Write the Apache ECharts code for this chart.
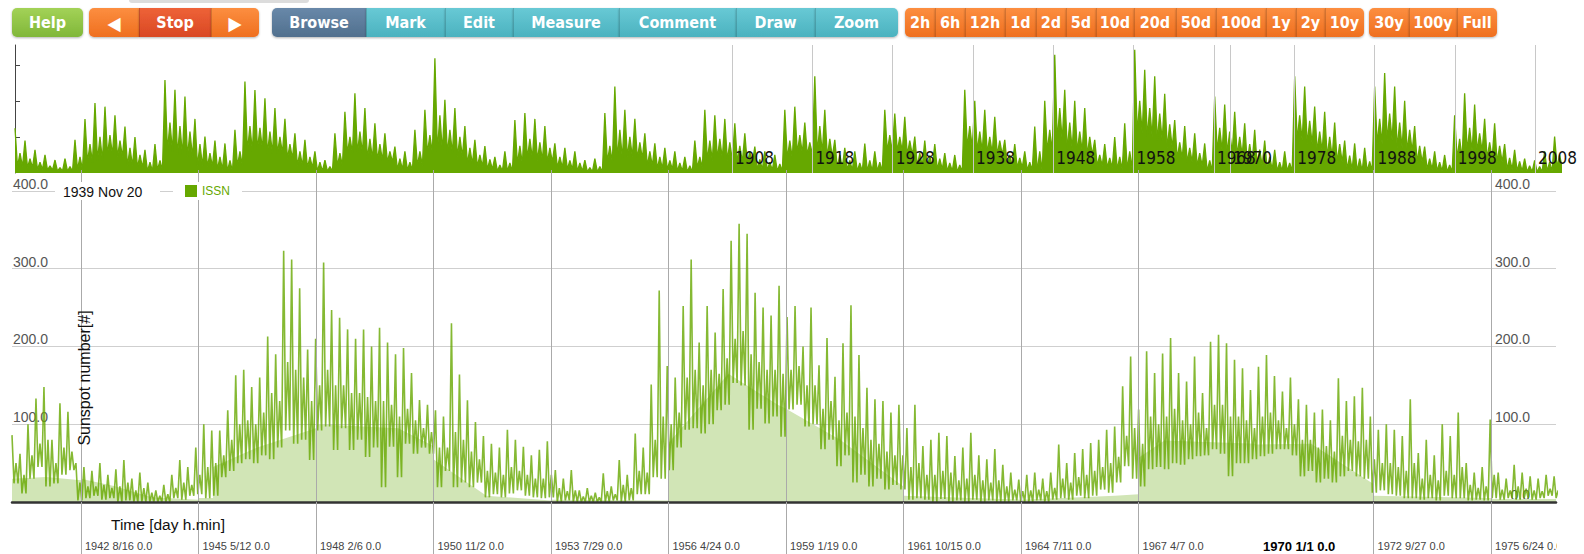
<!DOCTYPE html>
<html><head><meta charset="utf-8">
<script src="https://cdn.jsdelivr.net/npm/echarts@6/dist/echarts.min.js"></script>
<style>html,body{margin:0;padding:0;background:#fff}#c{width:1584px;height:554px}</style>
</head><body><div id="c"></div>
<script>
// ---------------- DATA ----------------
// Main chart: daily ISSN read from the picture as, per 68-day window:
// upper spike, lower dip and typical (band) level. Days since 1970-01-01.
const mainStartDay = -10587, mainStepDays = 68;
const mainHigh = [
 86,62,100,133,148,80,127,116,50,45, 40,50,35,42,54,30,38,25,15,22,
 35,54,45,70,100,92,92,118,163,170, 148,160,213,190,323,312,275,196,210,308,
 247,237,222,210,222,200,224,205,190,198, 166,131,125,118,110,230,164,131,103,85,
 75,70,93,80,71,60,67,78,41,30, 41,15,18,12,37,20,54,35,88,70,
 151,272,175,160,252,312,205,252,218,274, 336,358,345,269,250,240,278,238,252,200,
 250,176,211,161,204,253,189,147,132,130, 115,125,95,125,72,80,89,85,59,70,
 89,60,55,68,48,38,29,35,38,30, 38,74,50,63,68,76,80,93,97,149,
 187,119,194,166,191,211,166,155,187,140, 206,215,204,183,172,144,174,189,162,142,
 160,132,125,115,119,105,159,130,136,147, 110,93,100,93,85,132,63,80,60,100,
 85,115,50,38,45,106,38,30,48,38, 33,30,35,33
];
const mainLow = [
 24,11,30,45,20,24,35,41,2,5, 8,3,5,0,2,0,0,0,0,0,
 5,3,8,10,5,8,32,40,50,55, 50,60,55,70,92,75,80,54,92,97,
 67,95,67,80,58,70,19,71,32,75, 62,70,62,19,40,19,25,19,25,6,
 10,6,11,15,8,6,5,6,0,2, 0,0,0,0,0,2,0,2,10,10,
 32,30,41,70,93,95,88,100,118,125, 153,150,93,120,101,110,84,119,125,97,
 100,68,80,46,60,25,35,20,30,16, 22,16,3,5,3,0,4,0,2,0,
 3,0,2,0,0,2,0,0,2,0, 3,5,3,8,5,8,16,12,25,46,
 30,20,42,45,42,50,48,55,59,60, 68,62,33,50,50,55,59,62,68,68,
 60,33,40,25,30,25,33,40,33,30, 12,15,10,8,5,5,3,5,2,8,
 5,5,2,3,2,5,3,5,3,5, 3,5,8,5
];
const mainMid = [
 50,35,60,75,80,50,70,65,25,20, 20,22,18,20,25,15,18,12,8,10,
 18,25,22,35,45,50,60,80,100,105, 100,115,140,130,180,170,160,130,150,170,
 150,150,140,140,135,130,130,125,110,120, 105,95,90,70,70,90,80,65,55,40,
 38,35,45,40,35,30,30,35,18,14, 15,7,8,6,14,10,22,18,40,38,
 80,110,100,115,160,170,150,170,165,185, 210,220,190,180,170,170,165,170,175,150,
 150,120,130,105,115,110,95,80,75,65, 60,60,45,50,35,35,40,38,28,30,
 35,28,25,28,20,16,14,15,16,14, 18,30,25,32,35,40,45,50,58,85,
 95,75,110,100,110,120,105,100,115,95, 125,125,110,110,105,95,110,115,105,95,
 100,80,80,70,72,65,85,80,78,80, 55,50,50,45,40,50,30,35,28,40,
 35,45,22,18,20,35,16,15,20,17, 15,14,17,15
];
// Lower light-green fill, drawn per 1000-day tile (days, value)
const fillDays = [-10587,-10300,-10000, -10000,-9700,-9400,-9000, -9000,-8877,-8877,-8500,-8000,
 -8000,-7300,-7000, -7000,-6550,-6000, -6000,-5000, -5000,-4490,-4070,-4000, -4000,-3540,-3000,
 -3000,-2000, -2000,-1200,-1000, -1000,-780,0, 0,470,1000, 1000,2000, 2000,2553];
const fillLevels = [30,32,28, 30,20,6,3, 5,5,45,70,95,
 100,95,72, 55,8,2, 3,2, 76,165,125,120, 120,80,20,
 8,3, 3,8,10, 57,79,75, 74,75,23, 8,5, 4,4];
// Overview (1818.7 .. 2011): per 1.245-year window: spike, dip, typical level
const ovStartYear = 1818.7, ovStepYears = 1.245;
const ovHigh = [
 124,90,64,50,36,40,92,150,194,184, 160,129,100,64,80,258,231,212,150,101,
 90,82,120,254,230,207,180,150,110,92, 60,36,110,170,221,180,138,110,73,60,
 120,175,318,203,180,130,92,75,45,60, 147,166,150,130,82,70,60,36,40,166,
 240,175,150,110,82,70,60,45,90,175, 160,150,138,110,73,60,50,175,184,140,
 268,175,92,70,60,82,60,175,165,156, 101,90,80,55,50,231,200,175,156,92,
 80,60,129,200,328,231,200,180,92,80, 100,138,342,286,268,220,147,130,110,82,
 212,190,170,138,120,90,64,60,268,240, 184,170,140,90,82,70,240,277,240,200,
 130,73,60,50,160,221,190,150,138,80, 64,40,35,60,101
];
const ovLow = [
 18,15,10,8,5,5,10,30,35,50, 45,20,15,5,8,60,50,45,20,18,
 10,5,20,60,65,55,55,40,20,15, 5,5,20,55,55,40,35,30,10,8,
 20,55,60,55,45,25,18,10,5,5, 25,40,35,30,15,10,5,3,3,30,
 40,45,40,20,12,10,5,3,15,35, 40,35,30,25,10,8,5,40,55,50,
 55,45,15,8,5,5,5,60,60,50, 20,15,10,5,3,70,60,55,50,20,
 15,8,5,60,90,65,60,50,20,15, 10,10,110,100,90,70,40,30,20,5,
 60,55,50,30,20,10,5,5,90,80, 60,45,30,10,5,5,80,90,70,60,
 30,10,5,3,40,60,60,40,30,10, 5,3,3,5,15
];
const ovMid = [
 55,40,30,20,15,18,45,80,100,105, 90,70,50,30,35,140,130,115,80,55,
 45,35,60,130,125,115,100,80,60,45, 30,18,55,100,115,95,80,60,40,30,
 60,105,160,120,100,70,50,38,22,28, 75,95,85,70,45,35,28,15,18,75,
 120,100,85,60,45,35,28,20,45,90, 95,85,75,60,38,30,25,90,105,85,
 130,95,50,35,28,35,30,105,100,90, 55,48,40,28,22,130,115,100,90,50,
 42,30,60,120,180,140,115,100,50,42, 45,60,200,180,165,135,85,70,55,35,
 125,115,100,80,65,45,30,28,160,145, 115,100,80,48,40,32,150,165,140,120,
 75,40,30,22,95,125,110,85,75,42, 32,20,18,30,50
];
const mainTickDays = [-10000,-9000,-8000,-7000,-6000,-5000,-4000,-3000,-2000,-1000,1000,2000];
const mainLabelDays = [-10000,-9000,-8000,-7000,-6000,-5000,-4000,-3000,-2000,-1000,0,1000,2000];
const yTicks = [0,100,200,300,400];
const ovYears = [1908,1918,1928,1938,1948,1958,1968,1970,1978,1988,1998,2008];
const toolbar = [
 ['Help',12,83,'green',0],
 ['\u25C0',89,139,'orange',1],['Stop',139,211,'red',1],['\u25B6',211,259,'orange',1],
 ['Browse',272,366,'slate',2],['Mark',366,445,'teal',2],['Edit',445,513,'teal',2],['Measure',513,619,'teal',2],
 ['Comment',619,736,'teal',2],['Draw',736,815,'teal',2],['Zoom',815,898,'teal',2],
 ['2h',905,935,'orange',3],['6h',935,965,'orange',3],['12h',965,1005,'orange',3],['1d',1005,1036,'orange',3],
 ['2d',1036,1066,'orange',3],['5d',1066,1096,'orange',3],['10d',1096,1134,'orange',3],['20d',1134,1176,'orange',3],
 ['50d',1176,1216,'orange',3],['100d',1216,1266,'orange',3],['1y',1266,1296,'orange',3],['2y',1296,1325,'orange',3],
 ['10y',1325,1364,'orange',3],
 ['30y',1369,1409,'orange',4],['100y',1409,1457,'orange',4],['Full',1457,1497,'orange',4]
];

// ---------------- BUILD ----------------
const FONT = "'Liberation Sans', Arial, Helvetica, sans-serif";
const COND = "'DejaVu Sans Condensed', 'DejaVu Sans', sans-serif";
const GREEN = '#66a800';

function spikes(start, step, hi, lo, mid) {
  const out = [];
  hi.forEach((v, i) => {
    const d = start + i * step;
    out.push([d, v]);
    out.push([d + step / 4, lo[i]]);
    out.push([d + step / 2, mid[i]]);
    out.push([d + 3 * step / 4, lo[i]]);
  });
  return out;
}
const lineData = spikes(mainStartDay, mainStepDays, mainHigh, mainLow, mainMid);
const ovData = spikes(ovStartYear, ovStepYears, ovHigh, ovLow, ovMid);
const fillData = fillDays.map((d, i) => [d, fillLevels[i]]);

function dayLabel(v) {
  const d = new Date(v * 86400000);
  const s = d.getUTCFullYear() + ' ' + (d.getUTCMonth() + 1) + '/' + d.getUTCDate() + ' 0.0';
  return v === 0 ? '{b|' + s + '}' : s;
}

const COL = {
  green: ['#a3d257', '#80b739'], orange: ['#fc8e40', '#ef6f1f'], red: ['#ee6238', '#d94823'],
  slate: ['#6888a9', '#51708e'], teal: ['#68c9d5', '#4bb2bf']
};
const graphics = [];
graphics.push({type:'rect', shape:{x:129,y:-3,width:180,height:6,r:3}, style:{fill:'#dcdcdc'}, z:100});
toolbar.forEach((b, i) => {
  const [t, x0, x1, c, g] = b;
  const first = i === 0 || toolbar[i-1][4] !== g;
  const last = i === toolbar.length - 1 || toolbar[i+1][4] !== g;
  const r = [first?5:0, last?5:0, last?5:0, first?5:0];
  graphics.push({type:'rect', shape:{x:x0,y:8,width:x1-x0,height:29,r:r},
    style:{fill:{type:'linear',x:0,y:0,x2:0,y2:1,colorStops:[{offset:0,color:COL[c][0]},{offset:1,color:COL[c][1]}]},
      shadowBlur:2, shadowOffsetY:1, shadowColor:'rgba(0,0,0,0.3)'}, z:100});
  if (!first) graphics.push({type:'line', shape:{x1:x0+0.5,y1:8,x2:x0+0.5,y2:37}, style:{stroke:'rgba(0,0,0,0.16)',lineWidth:1}, z:101});
  graphics.push({type:'text', x:(x0+x1)/2, y:22.5, style:{text:t, fill:'#fff', fontSize:(t.length===1?19:16), fontWeight:'bold', fontFamily:COND, align:'center', verticalAlign:'middle'}, z:102});
});
graphics.push({type:'rect', shape:{x:55,y:182,width:105,height:18}, style:{fill:'#fff'}, z:100});
graphics.push({type:'text', x:63, y:191.5, style:{text:'1939 Nov 20', fill:'#111', fontSize:14, fontFamily:FONT, align:'left', verticalAlign:'middle'}, z:101});
graphics.push({type:'text', x:84, y:378, rotation:Math.PI/2, style:{text:'Sunspot number[#]', fill:'#111', fontSize:16, fontFamily:FONT, align:'center', verticalAlign:'middle'}, z:101});
graphics.push({type:'text', x:111, y:524, style:{text:'Time [day h.min]', fill:'#111', fontSize:15.5, fontFamily:FONT, align:'left', verticalAlign:'middle'}, z:101});
graphics.push({type:'rect', shape:{x:1557,y:504,width:30,height:52}, style:{fill:'#fff'}, z:100});

const chart = echarts.init(document.getElementById('c'), null, {renderer:'svg'});
chart.setOption({
  animation:false,
  backgroundColor:'#fff',
  textStyle:{fontFamily:FONT},
  grid:[
    {left:12, right:28, top:170, bottom:52, outerBoundsMode:'none', containLabel:false},
    {left:15, right:24, top:45, bottom:381, outerBoundsMode:'none', containLabel:false}
  ],
  legend:{data:[{name:'ISSN', icon:'rect'}], left:173, top:182, itemWidth:12, itemHeight:12, itemGap:0,
    padding:[3,12,3,12], backgroundColor:'#fff', selectedMode:false, z:100,
    textStyle:{color:GREEN, fontSize:12, fontFamily:FONT}},
  xAxis:[
    {type:'value', gridIndex:0, min:-10587, max:2553, z:5,
     axisLine:{show:true, onZero:false, lineStyle:{color:'#333', width:2.5}},
     axisTick:{show:true, customValues:mainTickDays, length:52, lineStyle:{color:'#aaa', width:1}},
     splitLine:{show:true, lineStyle:{color:'#aaa', width:1}},
     axisLabel:{customValues:mainLabelDays, formatter:dayLabel, margin:38, align:'left', verticalAlign:'top',
       padding:[0,0,0,4], color:'#444', fontSize:11, fontFamily:FONT, hideOverlap:false,
       rich:{b:{fontWeight:'bold', fontSize:13, lineHeight:13, color:'#000', fontFamily:FONT, padding:[0,0,0,3]}}}},
    {type:'value', gridIndex:1, min:1818.7, max:2011.1, z:5,
     axisLine:{show:false}, axisTick:{show:false, customValues:ovYears},
     splitLine:{show:true, lineStyle:{color:'#c8c8c8', width:1}},
     axisLabel:{inside:true, customValues:ovYears, formatter:v=>String(Math.round(v)), margin:7,
       align:'left', verticalAlign:'bottom', padding:[0,0,0,3], color:'#111', fontSize:17, fontFamily:COND, hideOverlap:false}}
  ],
  yAxis:[
    {type:'value', gridIndex:0, min:0, max:427, position:'left',
     axisLine:{show:false}, axisTick:{show:false, customValues:yTicks},
     splitLine:{show:true, lineStyle:{color:'#cfcfcf', width:1}},
     axisLabel:{inside:true, customValues:yTicks, formatter:v=>v.toFixed(1), margin:1, verticalAlign:'bottom',
       color:'#555', fontSize:14, fontFamily:FONT, hideOverlap:false}},
    {type:'value', gridIndex:0, min:0, max:427, position:'right',
     axisLine:{show:false}, axisTick:{show:false, customValues:yTicks}, splitLine:{show:false},
     axisLabel:{inside:true, customValues:yTicks, formatter:v=>v.toFixed(1), margin:26, verticalAlign:'bottom',
       color:'#555', fontSize:14, fontFamily:FONT, hideOverlap:false}},
    {type:'value', gridIndex:1, min:0, max:355,
     axisLine:{show:true, lineStyle:{color:'#444', width:1}},
     axisTick:{show:true, inside:true, length:5, customValues:[100,200,300], lineStyle:{color:'#444'}},
     axisLabel:{show:false}, splitLine:{show:false}}
  ],
  series:[
    {name:'fill', type:'line', xAxisIndex:0, yAxisIndex:0, data:fillData, symbol:'none', silent:true,
     lineStyle:{width:0, opacity:0}, areaStyle:{color:'#d1e5b6', opacity:1}, z:1},
    {name:'ISSN', type:'line', xAxisIndex:0, yAxisIndex:0, data:lineData, symbol:'none', silent:true,
     itemStyle:{color:GREEN}, lineStyle:{color:'rgba(102,168,0,0.8)', width:1.6}, z:2},
    {name:'overview', type:'line', xAxisIndex:1, yAxisIndex:2, data:ovData, symbol:'none', silent:true,
     itemStyle:{color:GREEN}, lineStyle:{color:GREEN, width:1.3}, areaStyle:{color:GREEN, opacity:1}, z:2}
  ],
  graphic:graphics
});
</script></body></html>
